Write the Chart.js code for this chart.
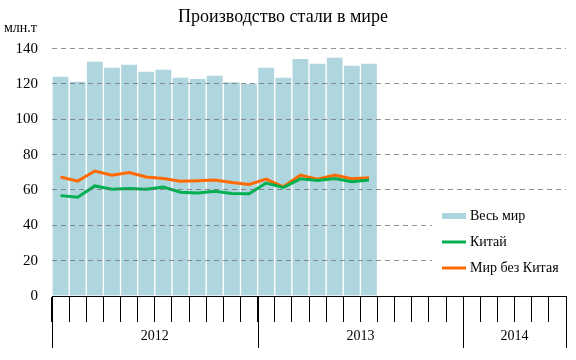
<!DOCTYPE html>
<html>
<head>
<meta charset="utf-8">
<script src="https://cdn.jsdelivr.net/npm/chart.js@4"></script>
<style>
  html, body { margin: 0; padding: 0; background: #fff; }
</style>
</head>
<body>
<canvas id="main-chart" width="576" height="360"></canvas>
<script>
var months = ["Янв 2012","Фев 2012","Мар 2012","Апр 2012","Май 2012","Июн 2012","Июл 2012","Авг 2012","Сен 2012","Окт 2012","Ноя 2012","Дек 2012",
              "Янв 2013","Фев 2013","Мар 2013","Апр 2013","Май 2013","Июн 2013","Июл 2013","Авг 2013","Сен 2013","Окт 2013","Ноя 2013","Дек 2013",
              "Янв 2014","Фев 2014","Мар 2014","Апр 2014","Май 2014","Июн 2014"];
var years = ["2012","2013","2014"];
var yearStart = [0, 12, 24, 30];
var world = [124.4,121.6,133,129.5,131.3,127.3,128.4,123.9,123.2,125,121.4,120.5,129.5,123.9,134.5,131.8,135.2,130.7,131.8];
var china = [56.8,55.9,62.3,60.4,60.8,60.4,61.6,58.7,58.3,59.3,58,57.8,63.9,61.4,66.3,65.3,66.5,64.6,65.6];
var restOfWorld = [67.3,65,70.7,68.4,69.9,67.3,66.5,65,65.2,65.6,64.2,63.1,66.1,61.8,68.4,66.1,68.4,66.3,66.9];
var yTicks = [0,20,40,60,80,100,120,140];

var serif = "'Liberation Serif', 'DejaVu Serif', serif";
var barColor = '#afd6de';
var greenColor = '#00b050';
var orangeColor = '#ff6a00';

// year boxes under the month ticks + unit label + legend
var extras = {
  id: 'extras',
  afterDraw: function(chart) {
    var ctx = chart.ctx;
    var x = chart.scales.x;
    var bottom = x.top;
    var step = x.width / months.length;
    ctx.save();
    ctx.strokeStyle = '#000';
    ctx.lineWidth = 1;
    ctx.fillStyle = '#000';
    ctx.font = '14px ' + serif;
    ctx.textAlign = 'center';
    ctx.textBaseline = 'middle';
    for (var i = 0; i < yearStart.length; i++) {
      var px = Math.round(x.left + yearStart[i] * step) + 0.5;
      ctx.beginPath();
      ctx.moveTo(px, bottom);
      ctx.lineTo(px, bottom + 52);
      ctx.stroke();
      if (i < years.length) {
        var mid = x.left + (yearStart[i] + yearStart[i + 1]) / 2 * step;
        ctx.fillText(years[i], mid, bottom + 40);
      }
    }
    // unit label
    ctx.textAlign = 'left';
    ctx.fillText('млн.т', 4, 28);

    // legend
    ctx.fillStyle = '#fff';
    ctx.fillRect(432, 200, 144, 86);
    ctx.fillStyle = barColor;
    ctx.fillRect(442, 213, 24, 6);
    ctx.strokeStyle = greenColor;
    ctx.lineWidth = 3;
    ctx.beginPath(); ctx.moveTo(442, 242); ctx.lineTo(466, 242); ctx.stroke();
    ctx.strokeStyle = orangeColor;
    ctx.beginPath(); ctx.moveTo(442, 268); ctx.lineTo(466, 268); ctx.stroke();
    ctx.fillStyle = '#000';
    ctx.fillText('Весь мир', 470, 216);
    ctx.fillText('Китай', 470, 242);
    ctx.fillText('Мир без Китая', 470, 268);
    ctx.restore();
  }
};

Chart.defaults.font.family = serif;
Chart.defaults.color = '#000';

const mainChart = new Chart(document.getElementById('main-chart'), {
  type: 'bar',
  data: {
    labels: months,
    datasets: [{
      type: 'line',
      label: 'Китай',
      data: china,
      borderColor: greenColor,
      borderWidth: 3,
      pointRadius: 0,
      tension: 0,
      order: 0
    }, {
      type: 'line',
      label: 'Мир без Китая',
      data: restOfWorld,
      borderColor: orangeColor,
      borderWidth: 3,
      pointRadius: 0,
      tension: 0,
      order: 1
    }, {
      label: 'Весь мир',
      data: world,
      backgroundColor: barColor,
      borderColor: '#ffffff',
      borderWidth: 1,
      categoryPercentage: 1,
      barPercentage: 1,
      order: 2
    }]
  },
  options: {
    responsive: false,
    animation: false,
    layout: { padding: { left: 0, right: 10, top: 0, bottom: 0 } },
    plugins: {
      legend: { display: false },
      tooltip: { enabled: false },
      title: {
        display: true,
        text: 'Производство стали в мире',
        font: { size: 18, weight: 'normal', family: serif },
        color: '#000',
        padding: { top: 6, bottom: 21 }
      }
    },
    scales: {
      x: {
        offset: true,
        grid: {
          offset: true,
          drawOnChartArea: false,
          color: '#000',
          tickLength: 26
        },
        border: { display: true, color: '#000', width: 1 },
        ticks: { callback: function() { return ''; }, autoSkip: false, maxRotation: 0 },
        afterFit: function(scale) { scale.height = 64; }
      },
      y: {
        min: 0,
        max: 140,
        afterBuildTicks: function(scale) { scale.ticks = yTicks.map(function(v) { return { value: v }; }); },
        grid: {
          z: 1,
          drawTicks: false,
          color: function(c) { return c.tick && c.tick.value === 0 ? 'rgba(0,0,0,0)' : 'rgba(110,110,110,0.75)'; }
        },
        border: { display: false, dash: [5, 4] },
        ticks: { padding: 14, font: { size: 15, family: serif }, color: '#000' },
        afterFit: function(scale) { scale.width = 52; }
      }
    }
  },
  plugins: [extras]
});
</script>
</body>
</html>
